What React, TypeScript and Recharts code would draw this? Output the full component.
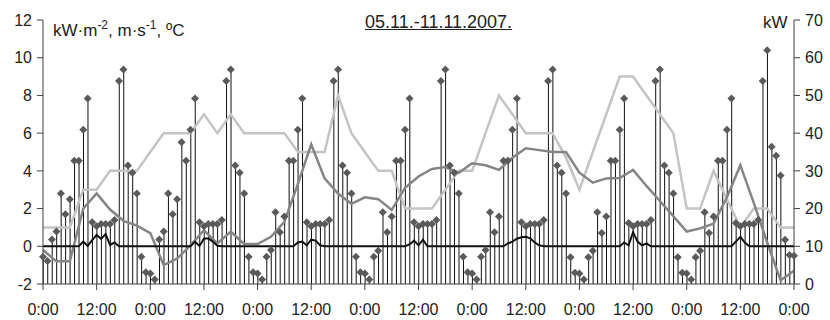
import React from 'react'
import { ComposedChart, Bar, Line, XAxis, YAxis } from 'recharts'

// hourly electric power, kW (right axis), 05.11. 0:00 .. 12.11. 0:00
const powerKw = [
  7.2, 6.1, 11.8, 13.9, 24, 18.5, 22.5, 32.7, 32.7, 40.9, 49.2, 16.4, 15.3, 15.9, 15.9, 15.9, 17, 53.8, 56.9, 31.4, 29.5, 24, 7.2, 3.1,
  2.8, 1.2, 11.8, 13.9, 24, 18.5, 22.5, 37.6, 32.7, 40.9, 49.2, 16.4, 15.3, 15.9, 15.9, 15.9, 17, 53.8, 56.9, 31.4, 29.5, 24, 7.2, 3.1,
  2.8, 1.2, 7.2, 9, 19, 13.7, 17.9, 32.7, 32.7, 40.9, 49.2, 16.4, 15.3, 15.9, 15.9, 15.9, 17, 53.8, 56.9, 31.4, 29.5, 24, 7.2, 3.1,
  2.8, 1.2, 7.2, 8.8, 19, 13.7, 17.9, 32.7, 32.7, 40.9, 49.2, 16.4, 15.3, 15.9, 15.9, 15.9, 17, 53.8, 56.9, 31.4, 29.5, 24, 7.2, 3.1,
  2.8, 1.2, 7.2, 9, 19, 13.7, 17.9, 32.7, 32.7, 40.9, 49.2, 16.4, 15.3, 15.9, 15.9, 15.9, 17, 53.8, 56.9, 31.4, 29.5, 24, 7.1, 3,
  2.8, 1.2, 7.1, 8.8, 19, 13.5, 17.9, 32.7, 32.7, 40.9, 49.2, 16.2, 15.3, 15.9, 15.9, 15.9, 17, 53.8, 56.9, 31.4, 29.5, 24, 7.1, 3,
  2.8, 1.2, 7.1, 8.8, 19, 13.5, 17.9, 32.7, 32.7, 40.9, 49.2, 16.2, 15.3, 15.9, 15.9, 15.9, 17, 53.8, 62, 36.4, 34, 28.8, 11.7, 7.7,
  7.5,
]

// hourly solar radiation, kW·m-2
const solar = [
  0, 0, 0, 0, 0, 0, 0, 0, 0, 0.25, 0.02, 0.33, 0.6, 0.39, 0.65, 0.07, 0.2, 0, 0, 0, 0, 0, 0, 0,
  0, 0, 0, 0, 0, 0, 0, 0, 0, 0, 0.25, 0.02, 0.4, 0.42, 0.25, 0.03, 0, 0, 0, 0, 0, 0, 0, 0,
  0, 0, 0, 0, 0, 0, 0, 0, 0, 0.2, 0.25, 0.05, 0.35, 0.3, 0.05, 0, 0, 0, 0, 0, 0, 0, 0, 0,
  0, 0, 0, 0, 0, 0, 0, 0, 0, 0, 0.1, 0.3, 0.05, 0.35, 0, 0, 0, 0, 0, 0, 0, 0, 0, 0,
  0, 0, 0, 0, 0, 0, 0, 0, 0.15, 0.25, 0.4, 0.48, 0.5, 0.42, 0.2, 0.05, 0, 0, 0, 0, 0, 0, 0, 0,
  0, 0, 0, 0, 0, 0, 0, 0, 0, 0, 0.2, 0.05, 0.75, 0.25, 0.05, 0.15, 0, 0, 0, 0, 0, 0, 0, 0,
  0, 0, 0, 0, 0, 0, 0, 0, 0, 0, 0, 0.25, 0.5, 0.2, 0, 0, 0, 0, 0, 0, 0, 0, 0, 0,
  0,
]

// every 3 hours
const temperature = [
  1, 1, 1, 3, 3, 4, 4, 4, 5, 6, 6, 6, 7, 6, 7, 6, 6, 6, 6, 5, 5, 5, 8, 6, 5, 4, 4, 2, 2,
  2, 3, 4, 4, 6, 8, 7, 6, 6, 6, 4.7, 3, 5, 7, 9, 9, 8, 7, 6, 2, 2, 4, 2.5, 1, 2, 2, 1, 1,
]
const windSpeed = [
  -0.2, -0.8, -0.8, 2.0, 2.8, 1.95, 1.35, 1.1, 0.7, -1.0, -0.65, 0.05, 0.85, 0.15, 0.78, 0.12, 0.12, 0.5, 1.3,
  3.3, 5.4, 3.6, 2.8, 2.25, 2.6, 2.5, 1.93, 3.1, 3.7, 4.1, 4.2, 3.9, 4.4, 4.3, 4.05, 4.7, 5.2, 5.1,
  5.0, 5.0, 3.9, 3.37, 3.6, 3.62, 4.05, 3.2, 2.4, 1.6, 0.78, 0.95, 1.2, 2.6, 4.3, 2.3, 0.2, -1.8, -1.3,
]

const hourTicks = [0, 12, 24, 36, 48, 60, 72, 84, 96, 108, 120, 132, 144, 156, 168]
const leftTicks = [-2, 0, 2, 4, 6, 8, 10, 12]
const rightTicks = [0, 10, 20, 30, 40, 50, 60, 70]

const font = '"Liberation Sans", Arial, sans-serif'
const axisColor = '#404040'

const rows = powerKw.map((kw, h) => ({
  h,
  kw,
  solar: solar[h],
  temp: h % 3 === 0 ? temperature[h / 3] : null,
  wind: h % 3 === 0 ? windSpeed[h / 3] : null,
}))

function Diamond(props: any) {
  const { cx, cy } = props
  if (cx == null || cy == null) return null
  const r = 4
  return <path d={`M${cx},${cy - r}L${cx + r},${cy}L${cx},${cy + r}L${cx - r},${cy}Z`} fill="#5a5a5a" />
}

export default function App() {
  const tick = { fontSize: 16, fill: '#222', fontFamily: font }
  const sup = { fontSize: 12, position: 'relative' as const, top: -7 }
  return (
    <div style={{ position: 'absolute', left: 0, top: 0, width: 830, height: 320, background: '#fff', fontFamily: font }}>
      <ComposedChart width={830} height={320} data={rows} margin={{ top: 20, right: 0, bottom: 0, left: 0 }}>
        <XAxis
          dataKey="h"
          type="number"
          domain={[0, 168]}
          ticks={hourTicks}
          tickFormatter={(v) => (v % 24 === 0 ? '0:00' : '12:00')}
          height={36}
          tick={tick}
          tickMargin={14}
          axisLine={{ stroke: axisColor }}
          tickLine={{ stroke: axisColor }}
        />
        <YAxis
          yAxisId="left"
          domain={[-2, 12]}
          ticks={leftTicks}
          width={43}
          tick={tick}
          tickMargin={5}
          axisLine={{ stroke: axisColor }}
          tickLine={{ stroke: axisColor }}
        />
        <YAxis
          yAxisId="right"
          orientation="right"
          domain={[0, 70]}
          ticks={rightTicks}
          width={36}
          tick={{ ...tick, textAnchor: 'start' }}
          tickMargin={5}
          axisLine={{ stroke: axisColor }}
          tickLine={{ stroke: axisColor }}
        />
        <Bar yAxisId="right" dataKey="kw" barSize={1} fill="#111" isAnimationActive={false} />
        <Line yAxisId="left" dataKey="temp" type="linear" stroke="#c4c4c4" strokeWidth={2.5} dot={false} connectNulls isAnimationActive={false} />
        <Line yAxisId="left" dataKey="wind" type="linear" stroke="#858585" strokeWidth={2.5} dot={false} connectNulls isAnimationActive={false} />
        <Line yAxisId="left" dataKey="solar" type="linear" stroke="#111" strokeWidth={2} dot={false} isAnimationActive={false} />
        <Line
          yAxisId="right"
          dataKey="kw"
          type="linear"
          stroke="none"
          dot={(p: any) => <Diamond key={p.index} {...p} />}
          activeDot={false}
          isAnimationActive={false}
        />
      </ComposedChart>
      <div style={{ position: 'absolute', left: 365, top: 13, fontSize: 18, lineHeight: '18px', color: '#222', textDecoration: 'underline' }}>
        05.11.-11.11.2007.
      </div>
      <div style={{ position: 'absolute', left: 53, top: 22, fontSize: 17, lineHeight: '17px', color: '#222', whiteSpace: 'nowrap' }}>
        kW·m<span style={sup}>-2</span>, m·s<span style={sup}>-1</span>, ºC
      </div>
      <div style={{ position: 'absolute', left: 763, top: 14, fontSize: 17, lineHeight: '17px', color: '#222' }}>kW</div>
    </div>
  )
}
